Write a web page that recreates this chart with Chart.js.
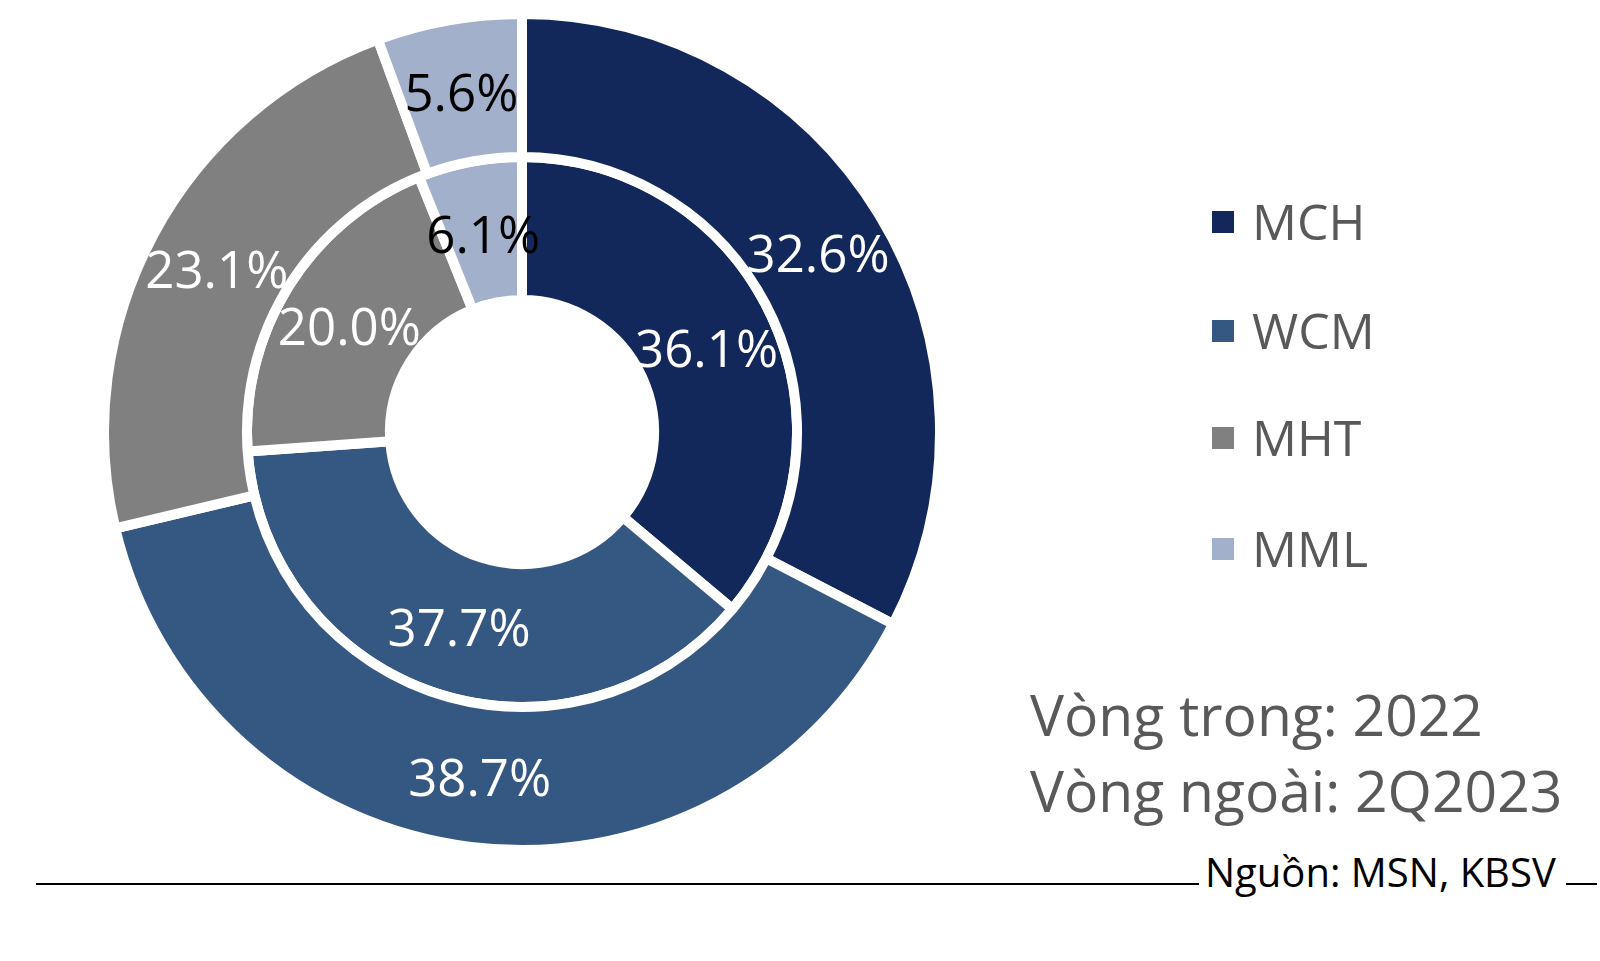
<!DOCTYPE html>
<html>
<head>
<meta charset="utf-8">
<script src="https://cdn.jsdelivr.net/npm/chart.js@4"></script>
<style>
  body { margin: 0; width: 1600px; height: 961px; background: #fff; position: relative; overflow: hidden; font-family: 'Open Sans', sans-serif; }
  #wrap { position: absolute; left: 99px; top: 9px; width: 846px; height: 846px; }
  .lg { position: absolute; left: 1212px; height: 50px; line-height: 50px; font-size: 50px; color: #595959; }
  .lg span.box { position: absolute; left: 0; width: 22px; height: 22px; }
  .lg span.txt { position: absolute; left: 40px; top: 0; white-space: nowrap; }
  .note { position: absolute; left: 1030px; font-size: 57px; line-height: 57px; color: #595959; white-space: nowrap; }
  #src { position: absolute; left: 1205px; top: 852px; font-size: 40px; line-height: 40px; color: #000; white-space: nowrap; }
  .rule { position: absolute; height: 2px; background: #000; top: 883px; }
</style>
</head>
<body>
<div id="wrap"><canvas id="chart"></canvas></div>
<div id="legend"></div>
<div class="note" style="top:686px">Vòng trong: 2022</div>
<div class="note" style="top:762px">Vòng ngoài: 2Q2023</div>
<div class="rule" style="left:36px; width:1163px"></div>
<div id="src">Nguồn: MSN, KBSV</div>
<div class="rule" style="left:1566px; width:31px"></div>
<script>
var labels = ['MCH', 'WCM', 'MHT', 'MML'];
var colors = ['#13285a', '#355882', '#808080', '#a2b0cb'];
var labelColors = ['#ffffff', '#ffffff', '#ffffff', '#000000'];
var outer_2q2023 = [32.6, 38.7, 23.1, 5.6];
var inner_2022 = [36.1, 37.7, 20.0, 6.1];

// legend on the right
var legendTop = [196, 305, 412, 523];
var legend = document.getElementById('legend');
for (let i = 0; i < labels.length; i++) {
    var row = document.createElement('div');
    row.className = 'lg';
    row.style.top = legendTop[i] + 'px';
    row.innerHTML = '<span class="box" style="top:15px;background:' + colors[i] + '"></span><span class="txt">' + labels[i] + '</span>';
    legend.appendChild(row);
}

// draws the value inside each slice
const sliceLabels = {
    id: 'sliceLabels',
    afterDatasetsDraw(chart) {
        const ctx = chart.ctx;
        ctx.save();
        ctx.font = '51px "Open Sans"';
        ctx.textAlign = 'center';
        ctx.textBaseline = 'middle';
        chart.data.datasets.forEach(function(ds, di) {
            chart.getDatasetMeta(di).data.forEach(function(arc, i) {
                const p = arc.tooltipPosition();
                ctx.fillStyle = labelColors[i];
                ctx.fillText(ds.data[i].toFixed(1) + '%', p.x, p.y + 6);
            });
        });
        ctx.restore();
    }
};

const data = {
    labels: labels,
    datasets: [{
        label: '2Q2023',
        data: outer_2q2023,
        backgroundColor: colors,
        borderColor: '#fff',
        borderWidth: 10
    }, {
        label: '2022',
        data: inner_2022,
        backgroundColor: colors,
        borderColor: '#fff',
        borderWidth: 10
    }]
};

const config = {
    type: 'doughnut',
    data: data,
    options: {
        responsive: true,
        maintainAspectRatio: false,
        animation: false,
        cutout: '31.6%',
        layout: { padding: 0 },
        plugins: {
            legend: { display: false },
            tooltip: { enabled: false }
        }
    },
    plugins: [sliceLabels]
};

const myChart = new Chart(document.getElementById('chart'), config);
</script>
</body>
</html>
